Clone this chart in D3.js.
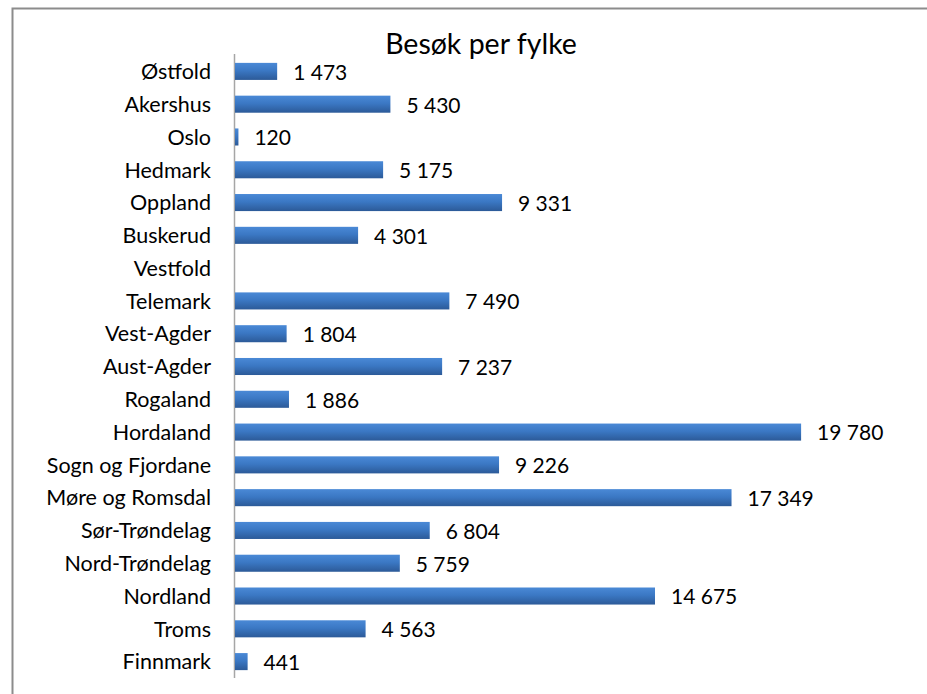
<!DOCTYPE html>
<html>
<head>
<meta charset="utf-8">
<script src="https://cdn.jsdelivr.net/npm/d3@7"></script>
<style>
  body { margin: 0; background: #fff; }
  text { font-family: Lato, "Open Sans", sans-serif; fill: #000; }
</style>
</head>
<body>
<div id="chart-area"></div>
<script>
// data (Vestfold has no bar)
let fylker = ["Østfold", "Akershus", "Oslo", "Hedmark", "Oppland", "Buskerud", "Vestfold",
    "Telemark", "Vest-Agder", "Aust-Agder", "Rogaland", "Hordaland", "Sogn og Fjordane",
    "Møre og Romsdal", "Sør-Trøndelag", "Nord-Trøndelag", "Nordland", "Troms", "Finnmark"];
let besok = [1473, 5430, 120, 5175, 9331, 4301, null, 7490, 1804, 7237, 1886, 19780, 9226,
    17349, 6804, 5759, 14675, 4563, 441];
let title = "Besøk per fylke";

let width = 927,
    height = 694;

let svg = d3.select("#chart-area")
    .append("svg")
    .attr("width", width)
    .attr("height", height);

// outer frame (cut off on the right and bottom)
svg.append("rect")
    .attr("x", 12.5)
    .attr("y", 8.5)
    .attr("width", 930)
    .attr("height", 700)
    .attr("fill", "none")
    .attr("stroke", "#8c8c8c")
    .attr("stroke-width", 2);

let defs = svg.append("defs");
let grad = defs.append("linearGradient")
    .attr("id", "barGrad")
    .attr("x1", 0).attr("y1", 0)
    .attr("x2", 0).attr("y2", 1);
grad.append("stop").attr("offset", "0%").attr("stop-color", "#4a89d6");
grad.append("stop").attr("offset", "45%").attr("stop-color", "#3b78c4");
grad.append("stop").attr("offset", "100%").attr("stop-color", "#2c5a98");

let data = fylker.map(function (d, i) {
    return {fylke: d, value: besok[i]};
});

let x = d3.scaleLinear()
    .domain([0, 20000])
    .range([235, 807.4]);

let y = d3.scaleBand()
    .domain(fylker)
    .range([55, 678])
    .paddingInner(0.48)
    .paddingOuter(0.24);

// y axis line
svg.append("line")
    .attr("x1", 234.5)
    .attr("x2", 234.5)
    .attr("y1", 54)
    .attr("y2", 678)
    .attr("stroke", "#a6a6a6")
    .attr("stroke-width", 1.5);

// category labels
svg.selectAll(".cat")
    .data(data)
    .enter()
    .append("text")
    .attr("class", "cat")
    .attr("x", 211)
    .attr("y", function (d) { return y(d.fylke) + y.bandwidth() / 2; })
    .attr("dy", "0.36em")
    .attr("text-anchor", "end")
    .attr("font-size", 21.5)
    .text(function (d) { return d.fylke; });

let withValue = data.filter(function (d) { return d.value !== null; });

svg.selectAll(".bar")
    .data(withValue)
    .enter()
    .append("rect")
    .attr("class", "bar")
    .attr("x", x(0))
    .attr("y", function (d) { return y(d.fylke); })
    .attr("width", function (d) { return x(d.value) - x(0); })
    .attr("height", y.bandwidth())
    .attr("fill", "url(#barGrad)");

let fmt = function (v) {
    return d3.format(",")(v).replace(/,/g, " ");
};

svg.selectAll(".val")
    .data(withValue)
    .enter()
    .append("text")
    .attr("class", "val")
    .attr("x", function (d) { return x(d.value) + 16; })
    .attr("y", function (d) { return y(d.fylke) + y.bandwidth() / 2; })
    .attr("dy", "0.4em")
    .attr("font-size", 21)
    .text(function (d) { return fmt(d.value); });

svg.append("text")
    .attr("x", 481)
    .attr("y", 54)
    .attr("text-anchor", "middle")
    .attr("font-size", 28.5)
    .text(title);
</script>
</body>
</html>
